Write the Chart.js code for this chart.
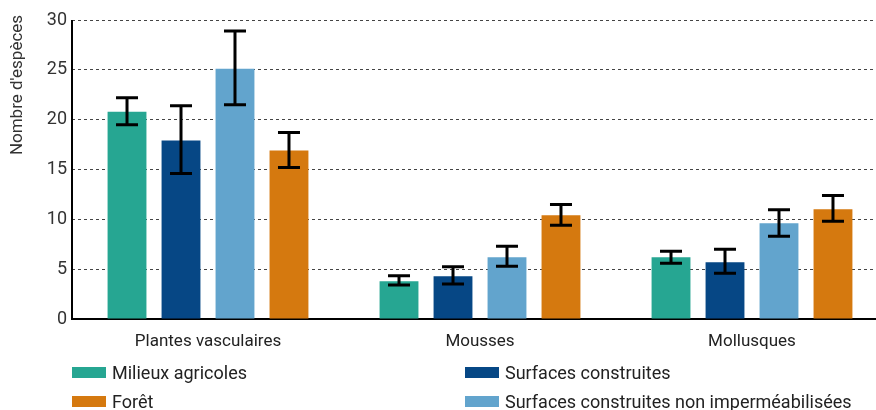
<!DOCTYPE html>
<html>
<head>
<meta charset="utf-8">
<script src="https://cdn.jsdelivr.net/npm/chart.js@4/dist/chart.umd.min.js"></script>
<style>
  html, body { margin: 0; padding: 0; background: #fff; }
  #wrap { position: relative; width: 876px; height: 410px; overflow: hidden; }
  #box { position: absolute; left: 0; top: 0; width: 890px; height: 410px; }
  .lg { position: absolute; height: 24px; display: flex; align-items: center;
        font-family: Roboto, sans-serif; font-size: 18px; color: #222; white-space: nowrap; }
  .sw { width: 34px; height: 11px; margin-right: 6px; }
</style>
</head>
<body>
<div id="wrap">
  <div id="box"><canvas id="c" width="890" height="410"></canvas></div>
</div>
<script>
// ---- data ----
const categories = ['Plantes vasculaires', 'Mousses', 'Mollusques'];
const seriesNames = ['Milieux agricoles', 'Surfaces construites', 'Surfaces construites non imperméabilisées', 'Forêt'];
const agricoles      = [20.8, 3.8, 6.2];
const agricolesLow   = [19.5, 3.4, 5.6];
const agricolesHigh  = [22.2, 4.35, 6.8];
const construites     = [17.9, 4.3, 5.7];
const construitesLow  = [14.6, 3.5, 4.6];
const construitesHigh = [21.4, 5.25, 7.0];
const nonImperm     = [25.1, 6.2, 9.6];
const nonImpermLow  = [21.5, 5.3, 8.3];
const nonImpermHigh = [28.9, 7.3, 10.95];
const foret     = [16.9, 10.4, 11.0];
const foretLow  = [15.2, 9.4, 9.8];
const foretHigh = [18.7, 11.5, 12.4];
const yTicks = [0, 5, 10, 15, 20, 25, 30];
const yTitle = "Nombre d'espèces";

const colors = ['#26A692', '#064785', '#62A4CD', '#D5790F'];
const values = [agricoles, construites, nonImperm, foret];
const lows = [agricolesLow, construitesLow, nonImpermLow, foretLow];
const highs = [agricolesHigh, construitesHigh, nonImpermHigh, foretHigh];

const errorBars = {
  id: 'errorBars',
  afterDatasetsDraw(chart) {
    const ctx = chart.ctx;
    const ys = chart.scales.y;
    ctx.save();
    ctx.strokeStyle = '#000';
    ctx.lineWidth = 3;
    chart.data.datasets.forEach((ds, di) => {
      const meta = chart.getDatasetMeta(di);
      meta.data.forEach((bar, i) => {
        const x = bar.x;
        const yl = ys.getPixelForValue(ds.low[i]);
        const yh = ys.getPixelForValue(ds.high[i]);
        const cw = 11;
        ctx.beginPath();
        ctx.moveTo(x, yl); ctx.lineTo(x, yh);
        ctx.moveTo(x - cw, yl); ctx.lineTo(x + cw, yl);
        ctx.moveTo(x - cw, yh); ctx.lineTo(x + cw, yh);
        ctx.stroke();
      });
    });
    ctx.restore();
  }
};

const axisAndTitle = {
  id: 'axisAndTitle',
  afterDraw(chart) {
    const ctx = chart.ctx;
    const a = chart.chartArea;
    ctx.save();
    ctx.strokeStyle = '#000';
    ctx.lineWidth = 2;
    ctx.setLineDash([]);
    ctx.beginPath();
    ctx.moveTo(a.left, a.top);
    ctx.lineTo(a.left, a.bottom + 1);
    ctx.stroke();
    ctx.font = '17px Roboto, sans-serif';
    ctx.fillStyle = '#333';
    ctx.textAlign = 'center';
    ctx.textBaseline = 'middle';
    ctx.translate(18, 85);
    ctx.rotate(-Math.PI / 2);
    ctx.fillText(yTitle, 0, 0);
    ctx.restore();
  }
};

new Chart(document.getElementById('c'), {
  type: 'bar',
  data: {
    labels: categories,
    datasets: seriesNames.map((n, i) => ({
      label: n,
      data: values[i],
      low: lows[i],
      high: highs[i],
      backgroundColor: colors[i],
      borderWidth: 0,
      categoryPercentage: 0.794,
      barPercentage: 0.72
    }))
  },
  options: {
    responsive: false,
    animation: false,
    devicePixelRatio: 1,
    layout: { padding: { top: 20, right: 2, bottom: 51, left: 0 } },
    plugins: { legend: { display: false }, tooltip: { enabled: false } },
    scales: {
      x: {
        grid: { display: false, drawTicks: false },
        border: { display: true, color: '#000', width: 2 },
        ticks: { color: '#222', font: { family: 'Roboto', size: 17 }, padding: 13 },
        afterFit(s) { s.height = 40; }
      },
      y: {
        min: 0, max: 30,
        afterBuildTicks(s) { s.ticks = yTicks.map(v => ({ value: v })); },
        grid: {
          color: (c) => c.tick && c.tick.value === 0 ? 'rgba(0,0,0,0)' : '#444',
          lineWidth: 1, drawTicks: false
        },
        border: { display: false, dash: [3, 3] },
        ticks: { color: '#333', font: { family: 'Roboto', size: 18 }, padding: 5 },
        afterFit(s) { s.width = 72; }
      }
    }
  },
  plugins: [errorBars, axisAndTitle]
});

// HTML legend
const legendPos = [[72, 372.5], [465, 372.5], [465, 401.5], [72, 401.5]];
const wrap = document.getElementById('wrap');
seriesNames.forEach((n, i) => {
  const d = document.createElement('div');
  d.className = 'lg';
  d.style.left = legendPos[i][0] + 'px';
  d.style.top = (legendPos[i][1] - 12) + 'px';
  const sw = document.createElement('span');
  sw.className = 'sw';
  sw.style.background = colors[i];
  d.appendChild(sw);
  d.appendChild(document.createTextNode(n));
  wrap.appendChild(d);
});
</script>
</body>
</html>
